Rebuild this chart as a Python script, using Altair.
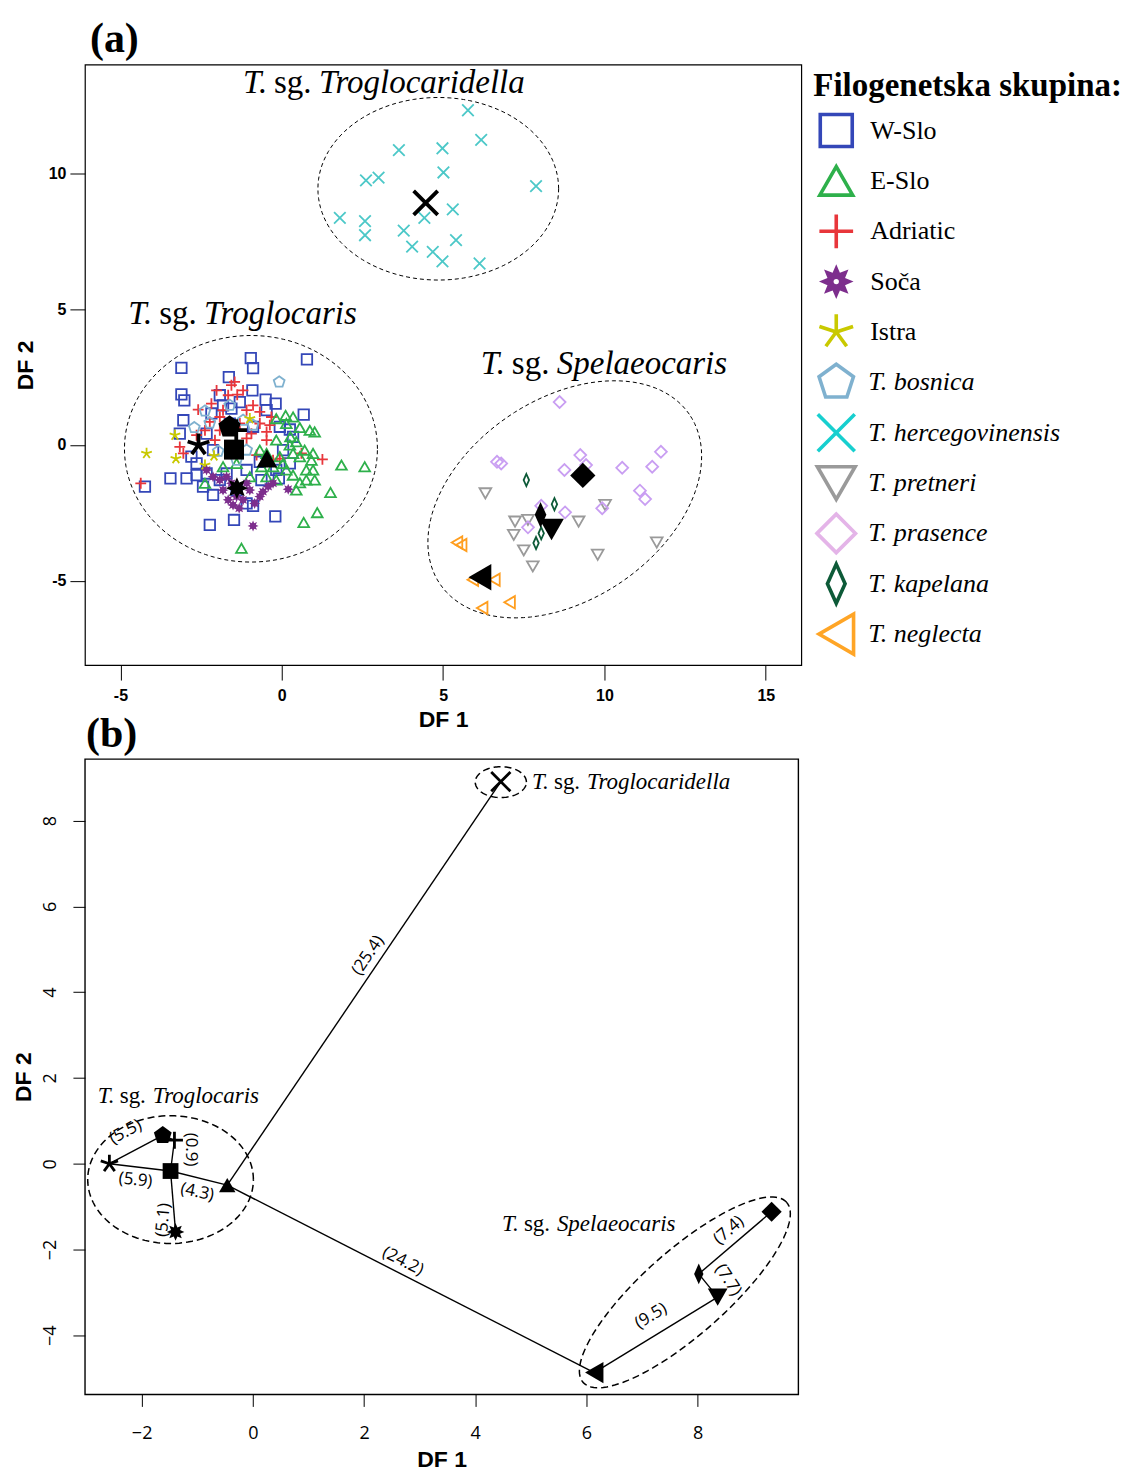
import math
import altair as alt
import pandas as pd

# ---------------------------------------------------------------------------
# Discriminant scores (DF 1, DF 2) per phylogenetic group
# ---------------------------------------------------------------------------
groups = ["W-Slo", "E-Slo", "Adriatic", "Soča", "Istra", "T. bosnica",
          "T. hercegovinensis", "T. pretneri", "T. prasence", "T. kapelana",
          "T. neglecta"]

w_slo = [(-0.96, 3.20), (-0.89, 2.83), (0.78, 3.15), (-3.11, 2.84), (-1.64, 2.50),
         (-3.11, 1.86), (-3.02, 1.64), (-0.91, 2.01), (-0.50, 1.67), (-0.19, 1.52),
         (0.68, 1.12), (-3.05, 0.91), (0.25, 0.57), (-3.45, -1.23), (-2.95, -1.23),
         (-2.64, -1.11), (-4.24, -1.53), (-2.23, -2.94), (-1.48, -2.76), (-0.20, -2.63),
         (-0.89, -2.24), (-2.13, -1.84), (-2.44, -1.53), (-1.92, 1.83), (-0.09, -1.23),
         (-2.80, -0.43), (-3.16, 0.42), (-1.56, 1.34), (-1.30, 1.58), (-1.82, 1.46),
         (-2.18, 1.16), (0.35, 0.30), (-0.47, 1.28), (-0.06, 0.67), (-2.64, -0.68),
         (-2.33, -1.05), (-1.71, -1.05), (-1.09, -0.92), (-0.63, -1.29), (-1.40, -1.66),
         (-1.92, -1.29), (0.25, -0.68), (0.04, -0.19), (-2.33, 0.42), (-0.89, 0.67),
         (-0.68, -0.62), (-1.61, 0.79), (-2.13, -0.19), (-0.17, -0.92), (-1.09, -2.15)]

e_slo = [(-1.25, -3.80), (0.68, -2.85), (1.10, -2.49), (1.51, -1.75), (1.85, -0.74),
         (2.57, -0.80), (0.12, 1.09), (0.35, 1.03), (-0.17, 0.97), (0.56, 0.64),
         (0.87, 0.54), (1.02, 0.48), (0.27, 0.30), (0.45, 0.12), (0.25, 0.00),
         (0.71, -0.19), (0.92, -0.56), (0.76, -0.92), (0.56, -1.39), (0.76, -1.29),
         (0.35, -1.11), (0.14, -0.92), (-0.06, -0.43), (-0.63, -0.80), (-1.82, -0.80),
         (-2.38, -1.41), (-0.47, -1.17), (-0.17, -1.29), (0.04, -0.68), (0.56, -0.43),
         (0.97, -0.92), (-0.17, 0.18), (-1.40, -0.68), (-0.99, -1.17), (0.45, -1.66),
         (0.97, -0.31), (0.14, 0.79), (-0.47, -0.31), (0.35, -0.31), (-0.27, -0.80),
         (1.02, -1.29), (-0.68, -0.19)]

adriatic = [(-1.46, 2.32), (-1.20, 2.01), (-2.02, 2.01), (-1.38, 1.85), (-2.59, 1.30),
            (-0.89, 1.46), (-0.68, 1.22), (-0.37, 0.73), (-3.16, -0.07), (-4.37, -1.41),
            (0.61, -0.31), (1.26, -0.53), (-0.06, -0.50), (-0.47, 0.18), (-2.18, 1.52),
            (-1.82, 1.28), (-1.66, 1.83), (-2.38, 0.54), (-2.23, 0.85), (-1.92, 0.54),
            (-1.09, 1.28), (-0.94, 0.42), (-0.68, 0.79), (-1.30, 0.79), (-1.92, 1.03),
            (-1.09, 0.24), (-0.78, -0.37), (-0.47, 0.48), (-2.07, 0.18), (-3.05, -0.31),
            (-1.56, 2.20), (-0.32, 1.03), (-2.64, 0.36), (-0.27, -0.56)]

soca = [(-0.89, -2.98), (0.20, -1.63), (-1.32, -2.33), (-1.66, -2.02), (-1.92, -1.29),
        (-0.68, -1.90), (-0.42, -1.53), (-0.84, -2.15), (-0.58, -1.72), (-1.82, -1.66),
        (-1.56, -1.41), (-1.09, -1.41), (-1.40, -1.90), (-2.13, -1.17), (-1.71, -1.17),
        (-0.99, -1.66), (-1.20, -2.02), (-2.33, -0.92), (-0.27, -1.41), (-1.51, -2.21)]

istra = [(-4.19, -0.31), (-3.31, 0.36), (-3.28, -0.50), (-2.38, -0.74), (-0.99, 0.97),
         (-2.10, -0.40)]

bosnica = [(-0.08, 2.32), (-2.38, 1.25), (-1.61, 1.46), (-2.71, 0.64), (-2.23, 0.81),
           (-0.89, 0.73), (-1.97, -0.23), (-1.40, -0.56), (-1.09, -0.19), (-1.20, 0.91)]

hercegovinensis = [(5.77, 12.32), (6.18, 11.23), (3.63, 10.85), (4.98, 10.92), (5.01, 10.03),
                   (2.61, 9.74), (3.00, 9.84), (7.88, 9.53), (1.80, 8.36), (2.58, 8.24),
                   (2.58, 7.72), (3.78, 7.89), (4.42, 8.36), (5.30, 8.67), (4.04, 7.30),
                   (4.68, 7.11), (4.98, 6.76), (5.40, 7.54), (6.13, 6.68)]

pretneri = [(6.31, -1.78), (7.23, -2.82), (7.63, -2.76), (7.19, -3.31), (7.50, -3.88),
            (7.78, -4.47), (9.20, -2.82), (10.02, -2.21), (9.79, -4.04), (11.62, -3.59)]

prasence = [(8.61, 1.58), (6.67, -0.62), (6.80, -0.68), (9.25, -0.37), (8.76, -0.92),
            (9.43, -0.74), (10.55, -0.84), (11.75, -0.25), (11.48, -0.80), (11.10, -1.68),
            (11.26, -1.99), (9.93, -2.33), (8.04, -2.24), (8.78, -2.48), (7.63, -3.03)]

kapelana = [(7.58, -1.29), (8.45, -2.18), (8.04, -3.25), (7.88, -3.61)]

neglecta = [(5.43, -3.59), (5.56, -3.68), (6.59, -4.96), (5.92, -4.96), (7.06, -5.79),
            (6.21, -6.00)]

scores = {"W-Slo": w_slo, "E-Slo": e_slo, "Adriatic": adriatic, "Soča": soca,
          "Istra": istra, "T. bosnica": bosnica, "T. hercegovinensis": hercegovinensis,
          "T. pretneri": pretneri, "T. prasence": prasence, "T. kapelana": kapelana,
          "T. neglecta": neglecta}

# group centroids
centroid_df1 = [-1.48, -0.46, -1.41, -1.39, -2.58, -1.62, 4.46, 8.36, 9.33, 8.02, 6.14]
centroid_df2 = [-0.17, -0.50, 0.55, -1.59, 0.00, 0.66, 8.91, -3.11, -1.12, -2.57, -4.87]

# centroid links and their distances
links = [("Istra", "T. bosnica"), ("T. bosnica", "Adriatic"), ("Adriatic", "W-Slo"),
         ("W-Slo", "Soča"), ("Istra", "W-Slo"), ("W-Slo", "E-Slo"),
         ("E-Slo", "T. hercegovinensis"), ("E-Slo", "T. neglecta"),
         ("T. neglecta", "T. pretneri"), ("T. pretneri", "T. kapelana"),
         ("T. kapelana", "T. prasence")]
dist_text = ["(25.4)", "(24.2)", "(5.5)", "(5.9)", "(0.9)", "(4.3)", "(5.1)",
             "(7.4)", "(7.7)", "(9.5)"]
dist_df1 = [2.07, 2.70, -2.29, -2.11, -1.12, -1.00, -1.61, 8.56, 8.55, 7.16]
dist_df2 = [4.86, -2.27, 0.74, -0.38, 0.33, -0.66, -1.31, -1.55, -2.71, -3.55]
dist_angle = [304, 27, 332, 6, 90, 12, 275, 319, 57, 329]

# subgenus clusters
subgenera = ["Troglocaridella", "Troglocaris", "Spelaeocaris"]
# ellipse: centre (x, y), first and second semi-axis vectors
ellipses_a = [(4.85, 9.43, 3.73, 0.0, 0.0, 3.36),
              (-0.955, -0.14, 3.92, 0.0, 0.0, 4.17),
              (8.77, -2.00, 3.86, 3.13, -1.76, 3.04)]
ellipses_b = [(4.46, 8.90, 0.46, 0.0, 0.0, 0.36),
              (-1.48, -0.37, 1.49, 0.0, 0.0, 1.49),
              (7.77, -3.00, 1.83, 2.10, -0.50, 0.736)]
label_a_df1 = [-1.20, -4.76, 6.17]
label_a_df2 = [12.94, 4.46, 2.62]
label_b_df1 = [5.02, -2.79, 4.48]
label_b_df2 = [8.74, 1.42, -1.57]

# ---------------------------------------------------------------------------
# Symbols and colours
# ---------------------------------------------------------------------------
PLUS = "M-1,0L1,0M0,-1L0,1"
CROSS = "M-1,-1L1,1M-1,1L1,-1"
PENTAGON = "M0,-1L0.951,-0.309L0.588,0.809L-0.588,0.809L-0.951,-0.309Z"
NARROW_DIAMOND = "M0,-1L0.45,0L0,1L-0.45,0Z"
ASTERISK = ("M0,0L0,-1M0,0L0.951,-0.309M0,0L0.588,0.809"
            "M0,0L-0.588,0.809M0,0L-0.951,-0.309")
_sun = []
for k in range(16):
    r = 1.0 if k % 2 == 0 else 0.55
    a = math.pi * k / 8
    _sun.append(f"{r * math.sin(a):.3f},{-r * math.cos(a):.3f}")
SUN = "M" + "L".join(_sun) + "Z"

shapes = ["square", "triangle-up", PLUS, SUN, ASTERISK, PENTAGON, CROSS,
          "triangle-down", "diamond", NARROW_DIAMOND, "triangle-left"]
colors = ["#3447b8", "#2eb04b", "#e8363b", "#7d2e8d", "#c9c900", "#7fb1cf",
          "#4cc8c8", "#9a9a9a", "#c99ef2", "#0d5a38", "#ff9e1f"]
legend_colors = ["#3447b8", "#2eb04b", "#e8363b", "#7d2e8d", "#c9c900", "#7fb1cf",
                 "#17cfcf", "#9a9a9a", "#e4b4e8", "#0d5a38", "#ffa526"]
stroked = {"Adriatic", "Istra", "T. hercegovinensis"}

size_points = [110, 150, 170, 250, 200, 150, 120, 190, 210, 360, 195]
size_centroid_a = [400, 700, 500, 520, 560, 520, 330, 520, 600, 650, 650]
size_centroid_b = [250, 450, 250, 280, 280, 270, 210, 380, 420, 450, 470]
size_legend = [1024, 1600, 1444, 1600, 1296, 2200, 900, 1600, 1850, 1369, 1444]

SERIF = "Liberation Serif"
SANS = "Liberation Sans"


def shape_enc():
    return alt.Shape("group:N", scale=alt.Scale(domain=groups, range=shapes), legend=None)


def size_enc(rng):
    return alt.Size("group:N", scale=alt.Scale(domain=groups, range=rng), legend=None)


def ellipse_frame(params):
    rows = []
    for name, (cx, cy, ux, uy, vx, vy) in zip(subgenera, params):
        for i in range(121):
            t = 2 * math.pi * i / 120
            rows.append({"cluster": name, "t": i,
                         "x": cx + ux * math.cos(t) + vx * math.sin(t),
                         "y": cy + uy * math.cos(t) + vy * math.sin(t)})
    return pd.DataFrame(rows)


draw_order = ["W-Slo", "Adriatic", "E-Slo", "T. bosnica", "Istra", "T. pretneri",
              "T. prasence", "T. kapelana", "T. neglecta", "T. hercegovinensis", "Soča"]
obs = pd.DataFrame([{"group": g, "x": p[0], "y": p[1]}
                    for g in draw_order for p in scores[g]])
cent = pd.DataFrame({"group": groups, "x": centroid_df1, "y": centroid_df2})

# ---------------------------------------------------------------------------
# Panel (a): individual scores with group centroids
# ---------------------------------------------------------------------------
xa = alt.X("x:Q", scale=alt.Scale(domain=[-6.1, 16.1], nice=False, zero=False),
           axis=alt.Axis(title="DF 1", values=[-5, 0, 5, 10, 15], grid=False, domain=False,
                         tickSize=15, tickColor="black", labelPadding=7,
                         labelFont=SANS, labelFontWeight="bold", labelFontSize=16,
                         labelColor="black", labelExpr="toString(datum.value)",
                         labelFlush=False, titleFont=SANS, titleFontWeight="bold",
                         titleFontSize=23, titleColor="black", titlePadding=5))
ya = alt.Y("y:Q", scale=alt.Scale(domain=[-8.1, 14.0], nice=False, zero=False),
           axis=alt.Axis(title="DF 2", values=[-5, 0, 5, 10], grid=False, domain=False,
                         tickSize=15, tickColor="black", labelPadding=4, labelAngle=0,
                         labelFont=SANS, labelFontWeight="bold", labelFontSize=16,
                         labelColor="black", labelExpr="toString(datum.value)",
                         labelFlush=False, titleFont=SANS, titleFontWeight="bold",
                         titleFontSize=23, titleColor="black", titlePadding=11))

ell_a = alt.Chart(ellipse_frame(ellipses_a)).mark_line(
    color="black", strokeWidth=1, strokeDash=[4, 3]
).encode(x=xa, y=ya, detail="cluster:N", order="t:Q")

pts_open = alt.Chart(obs[obs.group != "Soča"]).mark_point(
    filled=False, strokeWidth=1.8, opacity=1
).encode(x=xa, y=ya, shape=shape_enc(), size=size_enc(size_points),
         color=alt.Color("group:N", scale=alt.Scale(domain=groups, range=colors), legend=None))

pts_sun = alt.Chart(obs[obs.group == "Soča"]).mark_point(
    filled=True, opacity=1, strokeWidth=0
).encode(x=xa, y=ya, shape=shape_enc(), size=size_enc(size_points),
         color=alt.Color("group:N", scale=alt.Scale(domain=groups, range=colors), legend=None))


def centroid_layers(xe, ye, sizes, sw):
    solid = alt.Chart(cent[~cent.group.isin(stroked)]).mark_point(
        filled=True, opacity=1, color="black", strokeWidth=0
    ).encode(x=xe, y=ye, shape=shape_enc(), size=size_enc(sizes))
    lines = alt.Chart(cent[cent.group.isin(stroked)]).mark_point(
        filled=False, opacity=1, color="black", strokeWidth=sw
    ).encode(x=xe, y=ye, shape=shape_enc(), size=size_enc(sizes))
    return [solid, lines]


def cluster_labels(xe, ye, xs, ys, fs, dx_sg, dx_genus):
    df = pd.DataFrame({"x": xs, "y": ys, "genus": subgenera})
    base = alt.Chart(df)
    kw = dict(align="left", baseline="alphabetic", font=SERIF, fontSize=fs, color="black")
    t = base.mark_text(fontStyle="italic", **kw).encode(x=xe, y=ye, text=alt.value("T."))
    sg = base.mark_text(dx=dx_sg, **kw).encode(x=xe, y=ye, text=alt.value("sg."))
    gen = base.mark_text(dx=dx_genus, fontStyle="italic", **kw).encode(
        x=xe, y=ye, text="genus:N")
    return [t, sg, gen]


panel_a = alt.layer(
    ell_a, pts_open, pts_sun,
    *centroid_layers(xa, ya, size_centroid_a, 3.8),
    *cluster_labels(xa, ya, label_a_df1, label_a_df2, 33, 31, 76),
).resolve_scale(size="independent", shape="independent", color="independent").properties(
    width=717, height=601,
    view=alt.ViewBackground(stroke="black", strokeWidth=1.2),
    title=alt.TitleParams("(a)", anchor="start", frame="group", font=SERIF,
                          fontSize=42, fontWeight="bold", color="black", dx=5, offset=4),
)

# ---------------------------------------------------------------------------
# Legend
# ---------------------------------------------------------------------------
leg = pd.DataFrame({"group": groups, "row": list(range(len(groups))),
                    "italic": [g.startswith("T.") for g in groups]})
yl = alt.Y("row:Q", scale=alt.Scale(domain=[-1.31, 10.615], reverse=True, nice=False,
                                    zero=False), axis=None)
leg_color = alt.Color("group:N", scale=alt.Scale(domain=groups, range=legend_colors),
                      legend=None)
leg_open = alt.Chart(leg[leg.group != "Soča"]).mark_point(
    filled=False, strokeWidth=3.6, opacity=1
).encode(x=alt.value(22), y=yl, shape=shape_enc(), size=size_enc(size_legend), color=leg_color)
leg_sun = alt.Chart(leg[leg.group == "Soča"]).mark_point(
    filled=True, opacity=1, strokeWidth=0
).encode(x=alt.value(22), y=yl, shape=shape_enc(), size=size_enc(size_legend), color=leg_color)
leg_hole = alt.Chart(leg[leg.group == "Soča"]).mark_point(
    filled=True, opacity=1, color="white", shape="circle", size=28, strokeWidth=0
).encode(x=alt.value(22), y=yl)
leg_roman = alt.Chart(leg[~leg.italic]).mark_text(
    align="left", baseline="middle", font=SERIF, fontSize=26, color="black"
).encode(x=alt.value(56), y=yl, text="group:N")
leg_ital = alt.Chart(leg[leg.italic]).mark_text(
    align="left", baseline="middle", font=SERIF, fontSize=26, fontStyle="italic", color="black"
).encode(x=alt.value(54), y=yl, text="group:N")
leg_title = alt.Chart(pd.DataFrame({"row": [-0.89], "title": ["Filogenetska skupina:"]})).mark_text(
    align="left", baseline="middle", font=SERIF, fontSize=33, fontWeight="bold", color="black"
).encode(x=alt.value(-1), y=yl, text="title:N")

legend = alt.layer(
    leg_open, leg_sun, leg_hole, leg_roman, leg_ital, leg_title
).resolve_scale(size="independent", shape="independent", color="independent").properties(
    width=309, height=601, view=alt.ViewBackground(stroke="transparent"))

# ---------------------------------------------------------------------------
# Panel (b): centroids linked by distances
# ---------------------------------------------------------------------------
OPEN = "Open Sans"
xb = alt.X("x:Q", scale=alt.Scale(domain=[-3.02, 9.81], nice=False, zero=False),
           axis=alt.Axis(title="DF 1", values=[-2, 0, 2, 4, 6, 8], grid=False, domain=False,
                         tickSize=12, tickColor="black", labelPadding=18,
                         labelFont=OPEN, labelFontSize=18, labelColor="black",
                         labelExpr="replace(toString(datum.value), '-', '\u2212')",
                         labelFlush=False, titleFont=SANS, titleFontWeight="bold",
                         titleFontSize=23, titleColor="black", titlePadding=6))
yb = alt.Y("y:Q", scale=alt.Scale(domain=[-5.38, 9.44], nice=False, zero=False),
           axis=alt.Axis(title="DF 2", values=[-4, -2, 0, 2, 4, 6, 8], grid=False, domain=False,
                         tickSize=12, tickColor="black", labelPadding=13, labelAngle=270,
                         labelAlign="center", labelBaseline="bottom",
                         labelFont=OPEN, labelFontSize=18, labelColor="black",
                         labelExpr="replace(toString(datum.value), '-', '\u2212')",
                         labelFlush=False, titleFont=SANS, titleFontWeight="bold",
                         titleFontSize=23, titleColor="black", titlePadding=6))

pos = dict(zip(groups, zip(centroid_df1, centroid_df2)))
seg = pd.DataFrame([{"x": pos[a][0], "y": pos[a][1], "x2": pos[b][0], "y2": pos[b][1]}
                    for a, b in links])
dist = pd.DataFrame({"x": dist_df1, "y": dist_df2, "text": dist_text, "angle": dist_angle})

ell_b = alt.Chart(ellipse_frame(ellipses_b)).mark_line(
    color="black", strokeWidth=1.5, strokeDash=[7, 4]
).encode(x=xb, y=yb, detail="cluster:N", order="t:Q")
seg_b = alt.Chart(seg).mark_rule(color="black", strokeWidth=1.4).encode(
    x=xb, y=yb, x2="x2:Q", y2="y2:Q")
dist_b = alt.Chart(dist).mark_text(
    font=OPEN, fontSize=17, color="black", align="center", baseline="middle"
).encode(x=xb, y=yb, text="text:N", angle=alt.Angle("angle:Q", scale=None))

panel_b = alt.layer(
    ell_b, seg_b,
    *centroid_layers(xb, yb, size_centroid_b, 2.8),
    dist_b,
    *cluster_labels(xb, yb, label_b_df1, label_b_df2, 23, 22, 55),
).resolve_scale(size="independent", shape="independent").properties(
    width=714, height=636,
    view=alt.ViewBackground(stroke="black", strokeWidth=1.4),
    title=alt.TitleParams("(b)", anchor="start", frame="group", font=SERIF,
                          fontSize=42, fontWeight="bold", color="black", dx=1, offset=3),
)

# two-column grid: panel (a) + legend on top, panel (b) below
chart = alt.concat(
    panel_a, legend, panel_b,
    columns=2, spacing={"row": 94, "column": 13}, bounds="flush",
).resolve_scale(
    x="independent", y="independent", size="independent", shape="independent",
    color="independent",
).properties(
    padding={"left": 12, "top": 16, "right": 0, "bottom": 0},
    background="white",
)

chart.save("out.html", embed_options={"renderer": "svg", "actions": False})
